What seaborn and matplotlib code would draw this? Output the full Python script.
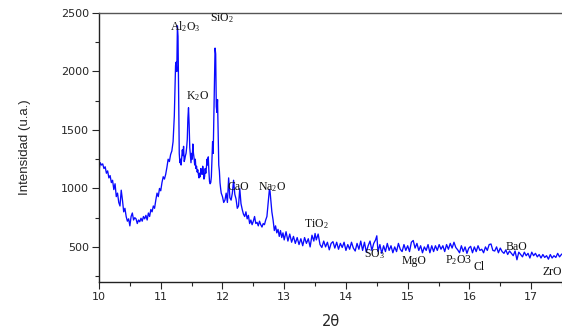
import numpy as np
import pandas as pd
import matplotlib
matplotlib.use("Agg")
import matplotlib.pyplot as plt
from matplotlib.ticker import MultipleLocator
import seaborn as sns

two_theta = [
    10.00, 10.02, 10.04, 10.06, 10.08, 10.10, 10.12, 10.14, 10.16, 10.18, 10.20, 10.22, 10.24, 10.26, 10.28,
    10.30, 10.32, 10.34, 10.36, 10.38, 10.40, 10.42, 10.44, 10.46, 10.48, 10.50, 10.52, 10.54, 10.56, 10.58,
    10.60, 10.62, 10.64, 10.66, 10.68, 10.70, 10.72, 10.74, 10.76, 10.78, 10.80, 10.82, 10.84, 10.86, 10.88,
    10.90, 10.92, 10.94, 10.96, 10.98, 11.00, 11.02, 11.04, 11.06, 11.08, 11.10, 11.12, 11.14, 11.16, 11.18,
    11.20, 11.22, 11.24, 11.25, 11.26, 11.27, 11.28, 11.29, 11.30, 11.31, 11.32, 11.33, 11.34, 11.35, 11.36,
    11.37, 11.38, 11.39, 11.40, 11.41, 11.42, 11.43, 11.44, 11.45, 11.46, 11.47, 11.48, 11.49, 11.50, 11.51,
    11.52, 11.53, 11.54, 11.55, 11.56, 11.57, 11.58, 11.59, 11.60, 11.61, 11.62, 11.63, 11.64, 11.65, 11.66,
    11.67, 11.68, 11.69, 11.70, 11.71, 11.72, 11.73, 11.74, 11.75, 11.76, 11.77, 11.78, 11.79, 11.80, 11.81,
    11.82, 11.83, 11.84, 11.85, 11.86, 11.87, 11.88, 11.89, 11.90, 11.91, 11.92, 11.93, 11.94, 11.95, 11.96,
    11.97, 11.98, 12.00, 12.02, 12.04, 12.06, 12.08, 12.10, 12.12, 12.14, 12.16, 12.18, 12.20, 12.22, 12.24,
    12.26, 12.28, 12.30, 12.32, 12.34, 12.36, 12.38, 12.40, 12.42, 12.44, 12.46, 12.48, 12.50, 12.52, 12.54,
    12.56, 12.58, 12.60, 12.62, 12.64, 12.66, 12.68, 12.70, 12.72, 12.74, 12.76, 12.77, 12.78, 12.80, 12.82,
    12.84, 12.86, 12.88, 12.90, 12.92, 12.94, 12.96, 12.98, 13.00, 13.03, 13.06, 13.09, 13.12, 13.15, 13.18,
    13.21, 13.24, 13.27, 13.30, 13.33, 13.36, 13.39, 13.42, 13.45, 13.48, 13.50, 13.52, 13.55, 13.58, 13.61,
    13.64, 13.67, 13.70, 13.73, 13.76, 13.79, 13.82, 13.85, 13.88, 13.91, 13.94, 13.97, 14.00, 14.03, 14.06,
    14.09, 14.12, 14.15, 14.18, 14.21, 14.24, 14.27, 14.30, 14.33, 14.36, 14.39, 14.42, 14.45, 14.48, 14.50,
    14.52, 14.55, 14.58, 14.61, 14.64, 14.67, 14.70, 14.73, 14.76, 14.79, 14.82, 14.85, 14.88, 14.91, 14.94,
    14.97, 15.00, 15.03, 15.06, 15.09, 15.12, 15.15, 15.18, 15.21, 15.24, 15.27, 15.30, 15.33, 15.36, 15.39,
    15.42, 15.45, 15.48, 15.51, 15.54, 15.57, 15.60, 15.63, 15.66, 15.69, 15.72, 15.75, 15.78, 15.81, 15.84,
    15.87, 15.90, 15.93, 15.96, 15.99, 16.02, 16.05, 16.08, 16.11, 16.14, 16.17, 16.20, 16.23, 16.26, 16.29,
    16.32, 16.35, 16.38, 16.41, 16.44, 16.47, 16.50, 16.53, 16.56, 16.59, 16.62, 16.65, 16.68, 16.71, 16.74,
    16.77, 16.80, 16.83, 16.86, 16.89, 16.92, 16.95, 16.98, 17.01, 17.04, 17.07, 17.10, 17.13, 17.16, 17.19,
    17.22, 17.25, 17.28, 17.31, 17.34, 17.37, 17.40, 17.43, 17.46, 17.49, 17.50,
]

intensity = [
    1150, 1220, 1200, 1210, 1170, 1185, 1130, 1150, 1090, 1110, 1050, 1070, 990, 1040, 930,
    960, 880, 850, 985, 900, 800, 830, 760, 720, 740, 680, 760, 790, 730, 750,
    740, 700, 730, 715, 745, 720, 760, 740, 770, 730, 790, 760, 820, 800, 850,
    830, 900, 960, 930, 1000, 980, 1050, 1100, 1080, 1120, 1180, 1250, 1230, 1290, 1320,
    1400, 1620, 2050, 2080, 2000, 2390, 2300, 1800, 1300, 1220, 1250, 1200, 1260, 1330, 1280,
    1360, 1230, 1250, 1280, 1300, 1350, 1420, 1600, 1690, 1550, 1350, 1280, 1220, 1300, 1250,
    1380, 1300, 1260, 1200, 1250, 1170, 1190, 1140, 1160, 1120, 1090, 1130, 1100, 1170, 1140,
    1120, 1190, 1150, 1080, 1100, 1170, 1130, 1180, 1250, 1200, 1270, 1150, 1060, 1040, 1050,
    1100, 1250, 1400, 1300, 1600, 1950, 2200, 2150, 1700, 1650, 1760, 1500, 1200, 1150, 1050,
    1000, 960, 930, 880, 900, 960, 880, 1090, 920, 900, 960, 1070, 950, 910, 830,
    850, 1000, 870, 820, 780, 760, 800, 740, 770, 700, 730, 690, 720, 760, 700,
    710, 680, 720, 690, 670, 700, 690, 730, 760, 880, 990, 980, 920, 800, 730,
    640, 680, 620, 650, 590, 640, 580, 620, 560, 630, 550, 610, 540, 590, 530,
    580, 520, 570, 510, 580, 530, 570, 500, 600, 550, 615, 560, 610, 520, 495,
    550, 500, 540, 475, 530, 545, 490, 540, 480, 530, 495, 540, 470, 520, 480,
    540, 490, 465, 530, 480, 550, 470, 540, 455, 510, 550, 470, 530, 560, 595,
    460, 520, 445, 510, 460, 530, 470, 510, 450, 500, 460, 530, 480, 460, 520,
    470, 510, 460, 540, 555, 490, 530, 470, 510, 450, 500, 470, 520, 450, 510,
    460, 510, 470, 520, 480, 510, 460, 520, 480, 530, 490, 540, 495, 475, 450,
    510, 460, 500, 445, 490, 505, 450, 500, 460, 510, 470, 480, 450, 500, 470,
    520, 525, 470, 465, 500, 450, 490, 460, 445, 475, 435, 465, 445, 425, 465,
    390, 455, 435, 415, 455, 425, 445, 405, 455, 425, 445, 415, 435, 405, 435,
    410, 425, 395, 435, 405, 425, 410, 445, 415, 435, 440,
]

labels = ["Al$_2$O$_3$", "SiO$_2$", "K$_2$O", "CaO", "Na$_2$O", "TiO$_2$",
          "SO$_3$", "MgO", "P$_2$O3", "Cl", "BaO", "ZrO"]
label_x = [11.39, 11.99, 11.60, 12.25, 12.80, 13.52, 14.46, 15.10, 15.83, 16.15, 16.76, 17.18]
label_y = [2380, 2457, 1790, 1013, 1013, 697, 440, 380, 390, 330, 500, 286]

sns.set_style("ticks")
plt.rcParams["mathtext.fontset"] = "custom"
plt.rcParams["mathtext.rm"] = "Liberation Serif"
plt.rcParams["mathtext.it"] = "Liberation Serif:italic"
plt.rcParams["font.family"] = ["DejaVu Sans"]

df = pd.DataFrame({"2theta": two_theta, "I": intensity})

fig = plt.figure(figsize=(5.62, 3.33), dpi=100)
ax = fig.add_axes([99 / 562, 1 - 282 / 333, 1 - 99 / 562, (282 - 13) / 333])
sns.lineplot(data=df, x="2theta", y="I", ax=ax, color="#0a0aff", linewidth=0.95, sort=False)

ax.set_xlim(10, 17.5)
ax.set_ylim(200, 2500)
ax.xaxis.set_major_locator(MultipleLocator(1))
ax.xaxis.set_minor_locator(MultipleLocator(0.5))
ax.yaxis.set_major_locator(MultipleLocator(500))
ax.yaxis.set_minor_locator(MultipleLocator(250))
ax.set_yticks([500, 1000, 1500, 2000, 2500])
ax.tick_params(which="major", direction="out", length=5, width=0.8, labelsize=8, pad=2)
ax.tick_params(which="minor", direction="out", length=3, width=0.8)
for s in ["left", "bottom", "top"]:
    ax.spines[s].set_linewidth(1.0)
    ax.spines[s].set_color("#222222")
ax.spines["top"].set_color("#555555")
ax.spines["right"].set_visible(False)

ax.set_xlabel("2θ", family=["DejaVu Sans"], fontsize=10.5, labelpad=9)
ax.set_ylabel("Intensidad (u.a.)", family=["Liberation Sans"], fontsize=9.5, labelpad=22)

for t, x, y in zip(labels, label_x, label_y):
    ha = "left" if t == "ZrO" else "center"
    ax.text(x, y, t, ha=ha, va="center", fontsize=8.5,
            family=["Liberation Serif", "DejaVu Serif"], color="#111111")

fig.savefig("out.png", dpi=100)
